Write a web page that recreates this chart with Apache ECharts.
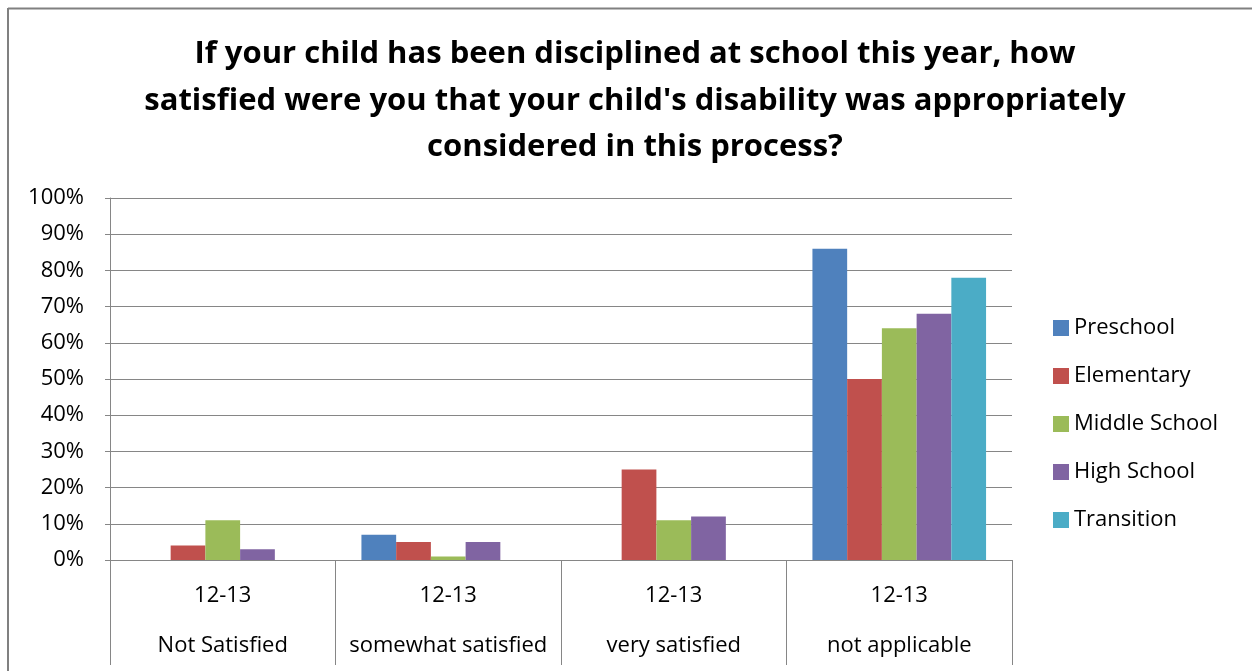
<!DOCTYPE html>
<html>
<head>
<meta charset="utf-8">
<script src="https://cdn.jsdelivr.net/npm/echarts@6/dist/echarts.min.js"></script>
<style>
html,body{margin:0;padding:0;background:#fff;}
#chart{width:1252px;height:671px;}
</style>
</head>
<body>
<div id="chart"></div>
<script>
var titleText = "If your child has been disciplined at school this year, how\nsatisfied were you that your child's disability was appropriately\nconsidered in this process?";
var periods = ["12-13", "12-13", "12-13", "12-13"];
var categories = ["Not Satisfied", "somewhat satisfied", "very satisfied", "not applicable"];
var seriesNames = ["Preschool", "Elementary", "Middle School", "High School", "Transition"];
var preschool = [0, 7, 0, 86];
var elementary = [4, 5, 25, 50];
var middleSchool = [11, 1, 11, 64];
var highSchool = [3, 5, 12, 68];
var transition = [0, 0, 0, 78];
var yTicks = [0, 10, 20, 30, 40, 50, 60, 70, 80, 90, 100];
var colors = ["#4F81BD", "#C0504D", "#9BBB59", "#8064A2", "#4BACC6"];

var seriesData = [preschool, elementary, middleSchool, highSchool, transition];
var fontFam = "'Open Sans', 'Noto Sans', sans-serif";
var chart = echarts.init(document.getElementById('chart'), null, {renderer: 'canvas'});
var option = {
  animation: false,
  color: colors,
  title: {
    text: titleText,
    left: 630,
    textAlign: 'center',
    top: 26,
    textStyle: {fontFamily: fontFam, fontSize: 31, fontWeight: 'bold', color: '#000', lineHeight: 46.5}
  },
  legend: {
    orient: 'vertical',
    left: 1053,
    top: 317,
    padding: 0,
    itemWidth: 16,
    itemHeight: 16,
    itemGap: 26,
    icon: 'rect',
    textStyle: {fontFamily: fontFam, fontSize: 22, color: '#000', lineHeight: 20},
    data: seriesNames
  },
  grid: {left: 110, top: 198, width: 902, height: 362, containLabel: false},
  xAxis: {
    type: 'category',
    data: categories.map(function(c, i){ return periods[i] + '\n' + c; }),
    axisLine: {lineStyle: {color: '#868686', width: 1}},
    axisTick: {show: true, interval: 0, length: 105, lineStyle: {color: '#868686', width: 1}},
    axisLabel: {interval: 0, fontFamily: fontFam, fontSize: 22, color: '#000', lineHeight: 50, margin: 11}
  },
  yAxis: {
    type: 'value',
    min: 0, max: 100, interval: 10,
    axisLine: {show: true, lineStyle: {color: '#868686', width: 1}},
    axisTick: {show: true, length: 5, lineStyle: {color: '#868686'}},
    splitLine: {lineStyle: {color: '#868686', width: 1}},
    axisLabel: {fontFamily: fontFam, fontSize: 22, color: '#000', margin: 26,
      formatter: function(v){ return v + '%'; }}
  },
  graphic: [
    {type: 'line', shape: {x1: 8, y1: 8.5, x2: 1252, y2: 8.5}, style: {stroke: '#808080', lineWidth: 2}},
    {type: 'line', shape: {x1: 8, y1: 8, x2: 8, y2: 671}, style: {stroke: '#808080', lineWidth: 2}}
  ],
  series: seriesData.map(function(d, i){
    return {name: seriesNames[i], type: 'bar', data: d, barGap: '0%', barCategoryGap: '23%',
      itemStyle: {color: colors[i]}};
  })
};
chart.setOption(option);
</script>
</body>
</html>
